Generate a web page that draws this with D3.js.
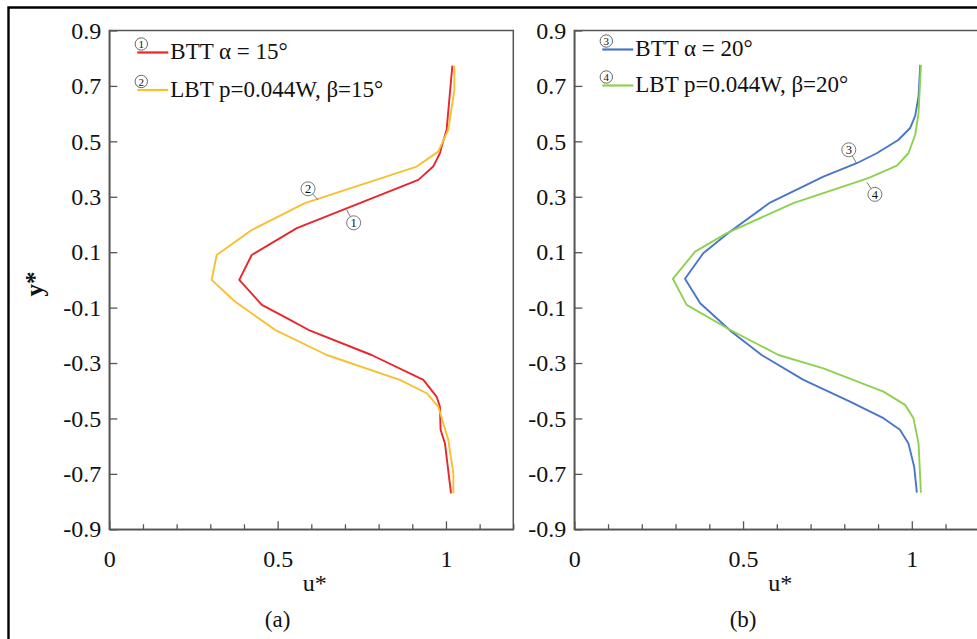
<!DOCTYPE html>
<html>
<head>
<meta charset="utf-8">
<script src="https://cdn.jsdelivr.net/npm/d3@7"></script>
<style>
  html, body { margin: 0; padding: 0; background: #fff; }
  svg { display: block; }
  text { font-family: "Liberation Serif", "Times New Roman", serif; fill: #111; }
</style>
</head>
<body>
<svg id="chart" width="977" height="639"></svg>
<script>
// Velocity profiles u* against y*
const btt15_u = [1.019, 1.002, 0.987, 0.982, 0.962, 0.918, 0.557, 0.423, 0.386, 0.453, 0.537, 0.591, 0.779, 0.933, 0.972, 0.982, 0.984, 0.997, 1.015];
const btt15_y = [0.773, 0.542, 0.481, 0.457, 0.409, 0.361, 0.187, 0.090, 0.000, -0.090, -0.144, -0.180, -0.271, -0.361, -0.421, -0.457, -0.541, -0.590, -0.770];

const lbt15_u = [1.025, 1.025, 1.007, 0.977, 0.913, 0.581, 0.423, 0.319, 0.304, 0.373, 0.492, 0.646, 0.863, 0.943, 0.977, 1.007, 1.022, 1.022];
const lbt15_y = [0.773, 0.686, 0.542, 0.463, 0.409, 0.277, 0.180, 0.090, 0.000, -0.078, -0.180, -0.271, -0.361, -0.409, -0.457, -0.578, -0.698, -0.770];

const btt20_u = [1.025, 1.020, 1.010, 0.995, 0.960, 0.896, 0.837, 0.738, 0.580, 0.461, 0.382, 0.328, 0.373, 0.466, 0.555, 0.679, 0.817, 0.916, 0.965, 0.990, 1.007, 1.015];
const btt20_y = [0.776, 0.662, 0.592, 0.548, 0.505, 0.457, 0.421, 0.373, 0.279, 0.174, 0.096, 0.004, -0.084, -0.187, -0.271, -0.361, -0.439, -0.499, -0.541, -0.590, -0.674, -0.768];

const lbt20_u = [1.027, 1.020, 1.010, 0.990, 0.956, 0.871, 0.649, 0.452, 0.358, 0.292, 0.333, 0.461, 0.605, 0.738, 0.916, 0.980, 1.005, 1.020, 1.027];
const lbt20_y = [0.776, 0.602, 0.523, 0.457, 0.412, 0.367, 0.277, 0.169, 0.102, 0.004, -0.090, -0.180, -0.271, -0.319, -0.403, -0.451, -0.499, -0.590, -0.768];

const seriesNames = ["BTT α = 15°", "LBT p=0.044W, β=15°", "BTT α = 20°", "LBT p=0.044W, β=20°"];
const seriesMarks = ["1", "2", "3", "4"];
const seriesColors = ["#e8262b", "#f7c030", "#4a76c8", "#8ed151"];

const yTicks = [-0.9, -0.7, -0.5, -0.3, -0.1, 0.1, 0.3, 0.5, 0.7, 0.9];
const xTicks = [0, 0.1, 0.2, 0.3, 0.4, 0.5, 0.6, 0.7, 0.8, 0.9, 1.0, 1.1, 1.2];
const xTickLabels = [0, 0.5, 1];
const panelTitles = ["(a)", "(b)"];

// callout positions: series index, curve point, label offset in px
const callouts = [
  { s: 1, u: 0.620, y: 0.289, dx: -10, dy: -11 },
  { s: 0, u: 0.705, y: 0.253, dx: 7, dy: 13 },
  { s: 2, u: 0.837, y: 0.419, dx: -8, dy: -14 },
  { s: 3, u: 0.867, y: 0.352, dx: 8, dy: 12 }
];

const svg = d3.select("#chart");

// outer figure frame
svg.append("path")
  .attr("d", "M8.5,639 L8.5,7.5 L977,7.5")
  .attr("fill", "none").attr("stroke", "#000").attr("stroke-width", 2.4);

const toPts = (us, ys) => us.map((u, i) => ({ u, y: ys[i] }));

const panels = [
  { left: 109.3, width: 404, series: [0, 1], data: [toPts(btt15_u, btt15_y), toPts(lbt15_u, lbt15_y)], legendTop: 45, showY: true },
  { left: 574.3, width: 405, series: [2, 3], data: [toPts(btt20_u, btt20_y), toPts(lbt20_u, lbt20_y)], legendTop: 42, showY: false }
];
const plotTop = 30.5, plotBottom = 529.3;
const fmtY = v => d3.format(".1f")(v).replace("−", "-");
const fmtX = v => d3.format("~g")(v);
const isLabelled = d => xTickLabels.some(v => Math.abs(v - d) < 1e-9);

panels.forEach((p, pi) => {
  const x = d3.scaleLinear().domain([0, 1.2]).range([p.left, p.left + p.width]);
  const y = d3.scaleLinear().domain([-0.9, 0.9]).range([plotBottom, plotTop]);
  const g = svg.append("g");

  // plot box
  g.append("rect")
    .attr("x", x(0)).attr("y", y(0.9))
    .attr("width", x(1.2) - x(0)).attr("height", y(-0.9) - y(0.9))
    .attr("fill", "none").attr("stroke", "#555").attr("stroke-width", 1.5);

  // x axis: inward ticks, longer at labelled values
  const xa = g.append("g").attr("transform", `translate(0,${plotBottom})`)
    .call(d3.axisBottom(x).tickValues(xTicks).tickSizeOuter(0).tickSizeInner(-5).tickPadding(21)
      .tickFormat(d => isLabelled(d) ? fmtX(d) : ""));
  xa.select(".domain").attr("stroke", "#555").attr("stroke-width", 1.5);
  xa.selectAll(".tick line").attr("stroke", "#555").attr("stroke-width", 1.3)
    .attr("y2", d => isLabelled(d) ? -8 : -5);
  xa.selectAll(".tick text").attr("font-size", 24).attr("fill", "#111")
    .style("font-family", "'Liberation Serif', serif");

  // y axis
  const ya = g.append("g").attr("transform", `translate(${x(0)},0)`)
    .call(d3.axisLeft(y).tickValues(yTicks).tickSizeOuter(0).tickSizeInner(-8).tickPadding(8).tickFormat(fmtY));
  ya.select(".domain").attr("stroke", "#555").attr("stroke-width", 1.5);
  ya.selectAll(".tick line").attr("stroke", "#555").attr("stroke-width", 1.3);
  ya.selectAll(".tick text").attr("font-size", 24).attr("fill", "#111")
    .style("font-family", "'Liberation Serif', serif");

  // curves
  const line = d3.line().x(d => x(d.u)).y(d => y(d.y));
  p.data.forEach((pts, k) => {
    g.append("path").datum(pts)
      .attr("d", line)
      .attr("fill", "none")
      .attr("stroke", seriesColors[p.series[k]])
      .attr("stroke-width", 1.9)
      .attr("stroke-linejoin", "round");
  });

  // legend
  p.series.forEach((s, k) => {
    const ly = p.legendTop + k * (pi === 0 ? 37.5 : 36);
    const lx = x(0) + 28;
    g.append("circle").attr("cx", lx + 4).attr("cy", ly - 1).attr("r", 6.2)
      .attr("fill", "#fff").attr("stroke", "#666").attr("stroke-width", 1);
    g.append("text").attr("x", lx + 4).attr("y", ly + 3.2).attr("text-anchor", "middle")
      .attr("font-size", 11).text(seriesMarks[s]);
    g.append("line").attr("x1", lx).attr("x2", lx + 31).attr("y1", ly + 7.5).attr("y2", ly + 7.5)
      .attr("stroke", seriesColors[s]).attr("stroke-width", 2.2);
    g.append("text").attr("x", lx + 33).attr("y", ly + 14)
      .attr("font-size", 23).text(seriesNames[s]);
  });

  // curve callouts
  callouts.filter(c => p.series.includes(c.s)).forEach(c => {
    const ax = x(c.u), ay = y(c.y);
    const cx = ax + c.dx, cy = ay + c.dy;
    const len = Math.hypot(c.dx, c.dy);
    const ux = c.dx / len, uy = c.dy / len;
    g.append("line").attr("x1", ax).attr("y1", ay)
      .attr("x2", cx - ux * 7).attr("y2", cy - uy * 7)
      .attr("stroke", "#777").attr("stroke-width", 1);
    g.append("circle").attr("cx", cx).attr("cy", cy).attr("r", 7)
      .attr("fill", "#fff").attr("stroke", "#777").attr("stroke-width", 1);
    g.append("text").attr("x", cx).attr("y", cy + 4.3).attr("text-anchor", "middle")
      .attr("font-size", 12.5).text(seriesMarks[c.s]);
  });

  // axis titles
  g.append("text").attr("x", x(0.61)).attr("y", 591).attr("text-anchor", "middle")
    .attr("font-size", 24).text("u*");
  g.append("text").attr("x", x(0.5)).attr("y", 627).attr("text-anchor", "middle")
    .attr("font-size", 23).text(panelTitles[pi]);
  if (p.showY) {
    g.append("text").attr("transform", `translate(43,284) rotate(-90)`)
      .attr("text-anchor", "middle").attr("font-size", 25).attr("font-weight", "bold")
      .text("y*");
  }
});
</script>
</body>
</html>
